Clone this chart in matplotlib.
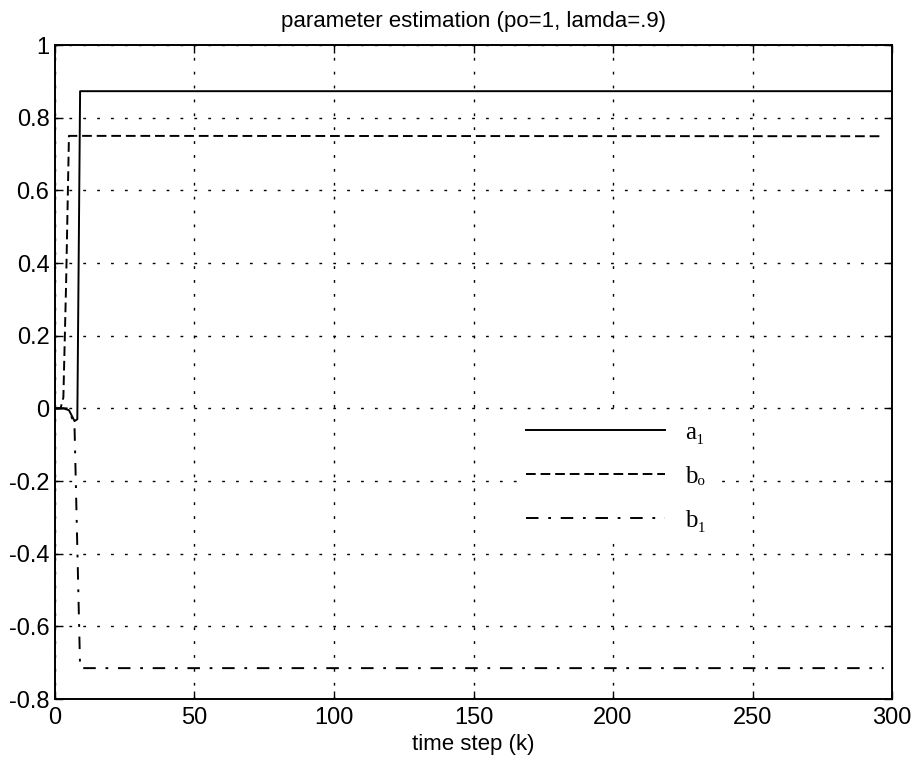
"""Parameter estimation plot (RLS, po=1, lamda=.9)"""

import matplotlib
matplotlib.use('Agg')
import matplotlib.pyplot as plt
from matplotlib.font_manager import FontProperties

# breakpoints (time step, estimate)
a1_k = [0, 3, 5, 7, 8, 9, 300]
a1_v = [0, 0, -0.005, -0.035, -0.03, 0.873, 0.873]

b0_k = [0, 2, 3, 4, 5, 297]
b0_v = [0, 0, 0.03, 0.35, 0.75, 0.749]

b1_k = [0, 5, 7, 9, 297]
b1_v = [0, 0, -0.05, -0.715, -0.715]

x_ticks = [0, 50, 100, 150, 200, 250, 300]
y_ticks = [-0.8, -0.6, -0.4, -0.2, 0, 0.2, 0.4, 0.6, 0.8, 1]
y_labels = ['-0.8', '-0.6', '-0.4', '-0.2', '0', '0.2', '0.4', '0.6', '0.8', '1']
series_labels = ['a\u2081', 'b\u2092', 'b\u2081']

plt.rcParams['font.family'] = ['Liberation Sans', 'DejaVu Sans']
plt.rcParams['lines.scale_dashes'] = False

fig = plt.figure(figsize=(9.12, 7.57), dpi=100)
ax = fig.add_axes([0.0603, 0.0766, 0.9178, 0.8639])

lw = 1.4
ax.plot(a1_k, a1_v, color='black', lw=lw, linestyle='-',
        label=series_labels[0])
ax.plot(b0_k, b0_v, color='black', lw=lw, linestyle=(0, (7, 3.5)),
        label=series_labels[1])
ax.plot(b1_k, b1_v, color='black', lw=lw, linestyle=(0, (9, 7, 2, 7)),
        label=series_labels[2])

ax.set_xlim(0, 300)
ax.set_ylim(-0.8, 1)
ax.set_xticks(x_ticks)
ax.set_yticks(y_ticks)
ax.set_yticklabels(y_labels)
ax.tick_params(direction='in', top=True, right=True, length=6,
               width=1, labelsize=17)
ax.tick_params(axis='x', pad=6)
ax.tick_params(axis='y', pad=4)

ax.grid(True, color='black', linestyle=(0, (2, 8)), linewidth=1)
for sp in ax.spines.values():
    sp.set_linewidth(1.4)

ax.set_title('parameter estimation (po=1, lamda=.9)', fontsize=16, pad=13)
ax.set_xlabel('time step (k)', fontsize=16, labelpad=3)

leg_font = FontProperties(family=['Liberation Serif', 'DejaVu Serif'], size=18)
leg = ax.legend(loc='upper left', bbox_to_anchor=(0.5556, 0.434),
                prop=leg_font, handlelength=5.55, handletextpad=0.8,
                labelspacing=0.86, frameon=True, fancybox=False,
                borderpad=0.25, borderaxespad=0)
leg.get_frame().set_edgecolor('none')
leg.get_frame().set_facecolor('white')
leg.get_frame().set_alpha(1)

fig.savefig('out.png', dpi=100)
